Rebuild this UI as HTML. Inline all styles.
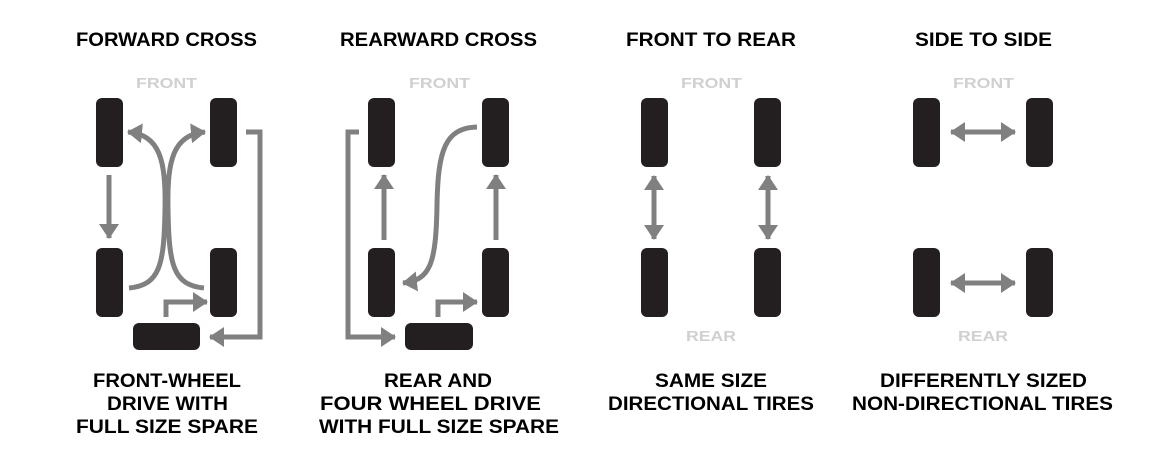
<!DOCTYPE html>
<html><head><style>
html,body{margin:0;padding:0;background:#fff;}
svg{display:block;}
text{font-family:"Liberation Sans",sans-serif;font-weight:bold;}
</style></head><body>
<svg width="1150" height="450" viewBox="0 0 1150 450" xmlns="http://www.w3.org/2000/svg">
<defs>
<marker id="a" markerUnits="userSpaceOnUse" markerWidth="16" markerHeight="20" refX="14" refY="10" orient="auto">
<path d="M0,0 L15,10 L0,20 Z" fill="#808080"/>
</marker>
<marker id="b" markerUnits="userSpaceOnUse" markerWidth="16" markerHeight="20" refX="1" refY="10" orient="auto">
<path d="M15,0 L0,10 L15,20 Z" fill="#808080"/>
</marker>
</defs>
<g fill="#000" font-size="19">
<text x="76" y="46" textLength="181" lengthAdjust="spacingAndGlyphs">FORWARD CROSS</text>
<text x="340" y="46" textLength="197" lengthAdjust="spacingAndGlyphs">REARWARD CROSS</text>
<text x="626" y="46" textLength="170" lengthAdjust="spacingAndGlyphs">FRONT TO REAR</text>
<text x="915" y="46" textLength="137" lengthAdjust="spacingAndGlyphs">SIDE TO SIDE</text>
<text x="93" y="387" textLength="148" lengthAdjust="spacingAndGlyphs">FRONT-WHEEL</text>
<text x="107" y="410" textLength="121" lengthAdjust="spacingAndGlyphs">DRIVE WITH</text>
<text x="76" y="433" textLength="182" lengthAdjust="spacingAndGlyphs">FULL SIZE SPARE</text>
<text x="384" y="387" textLength="108" lengthAdjust="spacingAndGlyphs">REAR AND</text>
<text x="320" y="410" textLength="221" lengthAdjust="spacingAndGlyphs">FOUR WHEEL DRIVE</text>
<text x="319" y="433" textLength="240" lengthAdjust="spacingAndGlyphs">WITH FULL SIZE SPARE</text>
<text x="655" y="387" textLength="112" lengthAdjust="spacingAndGlyphs">SAME SIZE</text>
<text x="608" y="410" textLength="206" lengthAdjust="spacingAndGlyphs">DIRECTIONAL TIRES</text>
<text x="880" y="387" textLength="207" lengthAdjust="spacingAndGlyphs">DIFFERENTLY SIZED</text>
<text x="852" y="410" textLength="261" lengthAdjust="spacingAndGlyphs">NON-DIRECTIONAL TIRES</text>
</g>
<g fill="#d0d0d0" font-size="15">
<text x="136" y="88" textLength="61" lengthAdjust="spacingAndGlyphs">FRONT</text>
<text x="409" y="88" textLength="61" lengthAdjust="spacingAndGlyphs">FRONT</text>
<text x="681" y="88" textLength="61" lengthAdjust="spacingAndGlyphs">FRONT</text>
<text x="953" y="88" textLength="61" lengthAdjust="spacingAndGlyphs">FRONT</text>
<text x="686" y="341" textLength="50" lengthAdjust="spacingAndGlyphs">REAR</text>
<text x="958" y="341" textLength="50" lengthAdjust="spacingAndGlyphs">REAR</text>
</g>
<g fill="#231f20">
<rect x="96" y="98" width="27" height="69" rx="6"/><rect x="210" y="98" width="27" height="69" rx="6"/>
<rect x="96" y="248" width="27" height="69" rx="6"/><rect x="210" y="248" width="27" height="69" rx="6"/>
<rect x="133" y="323" width="67" height="27" rx="6"/>
<rect x="368" y="98" width="27" height="69" rx="6"/><rect x="482" y="98" width="27" height="69" rx="6"/>
<rect x="368" y="248" width="27" height="69" rx="6"/><rect x="482" y="248" width="27" height="69" rx="6"/>
<rect x="405" y="323" width="68" height="27" rx="6"/>
<rect x="641" y="98" width="27" height="69" rx="6"/><rect x="754" y="98" width="27" height="69" rx="6"/>
<rect x="641" y="248" width="27" height="69" rx="6"/><rect x="754" y="248" width="27" height="69" rx="6"/>
<rect x="913" y="98" width="27" height="69" rx="6"/><rect x="1026" y="98" width="27" height="69" rx="6"/>
<rect x="913" y="248" width="27" height="69" rx="6"/><rect x="1026" y="248" width="27" height="69" rx="6"/>
</g>
<g stroke="#808080" stroke-width="5" fill="none">
<path d="M109,175 L109,238" marker-end="url(#a)"/>
<path d="M246,132 L260,132 L260,337 L210,337" marker-end="url(#a)"/>
<path d="M166,317 L166,302 L207,302" marker-end="url(#a)"/>
<path d="M129,288 C160,285 164,265 165,210 C166,160 160,135 128,132" marker-end="url(#a)"/>
<path d="M204,288 C173,285 169,265 168,210 C167,160 173,135 205,132" marker-end="url(#a)"/>
<path d="M359,132 L348,132 L348,337 L395,337" marker-end="url(#a)"/>
<path d="M384,240 L384,175" marker-end="url(#a)"/>
<path d="M496,240 L496,175" marker-end="url(#a)"/>
<path d="M438,317 L438,302 L477,302" marker-end="url(#a)"/>
<path d="M477,127 C445,128 438,150 437,205 C436,265 430,280 403,283" marker-end="url(#a)"/>
<path d="M654,176 L654,239" marker-start="url(#b)" marker-end="url(#a)"/>
<path d="M768,176 L768,239" marker-start="url(#b)" marker-end="url(#a)"/>
<path d="M951,132 L1015,132" marker-start="url(#b)" marker-end="url(#a)"/>
<path d="M951,283 L1015,283" marker-start="url(#b)" marker-end="url(#a)"/>
</g>
</svg>
</body></html>
